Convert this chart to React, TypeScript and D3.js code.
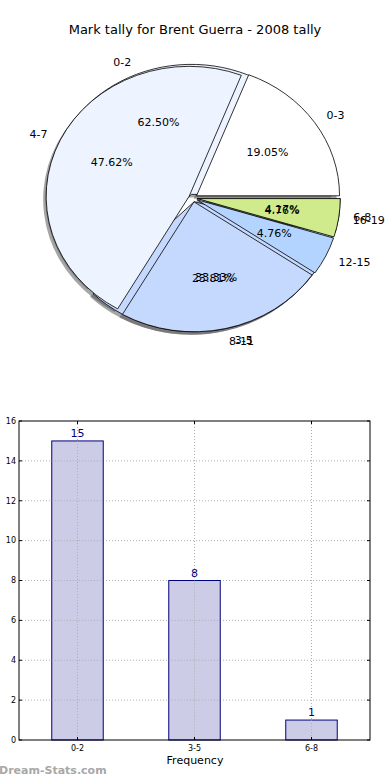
import * as d3 from "d3";

// first tally: 3 groups
const groupsA = ["0-2", "3-5", "6-8"];
const countsA = [15, 8, 1];
// second tally: 5 groups
const groupsB = ["0-3", "4-7", "8-11", "12-15", "16-19"];
const countsB = [4, 10, 5, 1, 1];
const explodeA = [0.03, 0.03, 0.03];
const explodeB = [0.03, 0.03, 0.03, 0.03, 0.03];

const colorsB = ["#ffffff", "#edf3ff", "#c5d8fe", "#b3d4fe", "#d0eb8b"];
const colorsA = ["#edf3ff", "#c5d8fe", "#d0eb8b"];

const barLabels = groupsA;
const barValues = countsA;
const yTicks = [0, 2, 4, 6, 8, 10, 12, 14, 16];

const W = 390;
const H = 780;
const font = "DejaVu Sans, sans-serif";

const cx = 193;
const cy = 198;
const rx = 143;
const ry = 130;

type Slice = { label: string; value: number; color: string; explode: number };

function PieLayer({ slices, part }: { slices: Slice[]; part: "shadow" | "wedge" | "text" }) {
  const total = d3.sum(slices, (d) => d.value);
  const pie = d3
    .pie<Slice>()
    .sort(null)
    .value((d) => d.value)
    .startAngle(Math.PI / 2)
    .endAngle(Math.PI / 2 - 2 * Math.PI);
  const arc = d3.arc<d3.PieArcDatum<Slice>>().innerRadius(0).outerRadius(1);
  const arcs = pie(slices);

  return (
    <g>
      {arcs.map((d, i) => {
        const mid = (d.startAngle + d.endAngle) / 2;
        const ex = Math.sin(mid) * d.data.explode * rx;
        const ey = -Math.cos(mid) * d.data.explode * ry;
        const ox = cx + ex;
        const oy = cy + ey;
        if (part === "shadow") {
          return (
            <path
              key={i}
              d={arc(d) || ""}
              transform={`translate(${ox - 3},${oy + 3}) scale(${rx},${ry})`}
              fill="#4d4d4d"
              opacity={0.5}
            />
          );
        }
        if (part === "wedge") {
          return (
            <path
              key={i}
              d={arc(d) || ""}
              transform={`translate(${ox},${oy}) scale(${rx},${ry})`}
              fill={d.data.color}
              stroke="#000"
              strokeWidth={0.8}
              vectorEffect="non-scaling-stroke"
              strokeLinejoin="round"
            />
          );
        }
        const lx = ox + Math.sin(mid) * 1.1 * rx;
        const ly = oy - Math.cos(mid) * 1.1 * ry;
        const px = ox + Math.sin(mid) * 0.6 * rx;
        const py = oy - Math.cos(mid) * 0.6 * ry;
        const pct = ((d.data.value / total) * 100).toFixed(2) + "%";
        return (
          <g key={i} fontFamily={font} fontSize={11} fill="#000">
            <text x={lx} y={ly} dy="0.35em" textAnchor={Math.sin(mid) > 0 ? "start" : "end"}>
              {d.data.label}
            </text>
            <text x={px} y={py} dy="0.35em" textAnchor="middle">
              {pct}
            </text>
          </g>
        );
      })}
    </g>
  );
}

export default function App() {
  const slicesA: Slice[] = groupsA.map((g, i) => ({
    label: g,
    value: countsA[i],
    color: colorsA[i],
    explode: explodeA[i],
  }));
  const slicesB: Slice[] = groupsB.map((g, i) => ({
    label: g,
    value: countsB[i],
    color: colorsB[i],
    explode: explodeB[i],
  }));

  // bar chart
  const left = 19;
  const right = 370;
  const top = 421;
  const bottom = 740;
  const x = d3.scaleLinear().domain([0, barLabels.length]).range([left, right]);
  const y = d3.scaleLinear().domain([0, 16]).range([bottom, top]);
  const barW = 0.44;

  return (
    <div style={{ position: "absolute", left: 0, top: 0 }}>
      <svg width={W} height={H} style={{ display: "block", background: "#fff" }}>
        <text x={195} y={34} textAnchor="middle" fontFamily={font} fontSize={13} fill="#000">
          Mark tally for Brent Guerra - 2008 tally
        </text>

        <PieLayer slices={slicesA} part="shadow" />
        <PieLayer slices={slicesB} part="shadow" />
        <PieLayer slices={slicesA} part="wedge" />
        <PieLayer slices={slicesB} part="wedge" />
        <PieLayer slices={slicesA} part="text" />
        <PieLayer slices={slicesB} part="text" />

        {/* grid */}
        <g stroke="#b0b0b0" strokeWidth={1} strokeDasharray="1,2">
          {yTicks.slice(1, -1).map((t) => (
            <line key={t} x1={left} x2={right} y1={y(t)} y2={y(t)} />
          ))}
          {barLabels.map((_, i) => (
            <line key={i} x1={x(i + 0.5)} x2={x(i + 0.5)} y1={top} y2={bottom} />
          ))}
        </g>

        {barValues.map((v, i) => (
          <g key={i}>
            <rect
              x={x(i + 0.5 - barW / 2)}
              y={y(v)}
              width={x(barW) - x(0)}
              height={y(0) - y(v)}
              fill="#ccccE6"
              stroke="#000080"
              strokeWidth={1}
            />
            <text
              x={x(i + 0.5)}
              y={y(v) - 4}
              textAnchor="middle"
              fontFamily={font}
              fontSize={11}
              fill="#000080"
            >
              {v}
            </text>
          </g>
        ))}

        {/* grid shows through the bars */}
        <g stroke="#a0a0a0" strokeWidth={1} strokeDasharray="1,2" opacity={0.7}>
          {barValues.map((v, i) =>
            yTicks
              .filter((t) => t > 0 && t < v)
              .map((t) => (
                <line
                  key={`${i}-${t}`}
                  x1={x(i + 0.5 - barW / 2)}
                  x2={x(i + 0.5 + barW / 2)}
                  y1={y(t)}
                  y2={y(t)}
                />
              ))
          )}
          {barValues.map((v, i) => (
            <line key={i} x1={x(i + 0.5)} x2={x(i + 0.5)} y1={y(v)} y2={bottom} />
          ))}
        </g>

        <rect
          x={left}
          y={top}
          width={right - left}
          height={bottom - top}
          fill="none"
          stroke="#000"
          strokeWidth={1}
        />

        {/* y ticks */}
        {yTicks.map((t) => (
          <g key={t}>
            <line x1={left} x2={left + 3} y1={y(t)} y2={y(t)} stroke="#000" />
            <line x1={right} x2={right - 3} y1={y(t)} y2={y(t)} stroke="#000" />
            <text
              x={left - 3}
              y={y(t)}
              dy="0.35em"
              textAnchor="end"
              fontFamily={font}
              fontSize={8}
              fill="#000"
            >
              {t}
            </text>
          </g>
        ))}

        {/* x ticks */}
        {barLabels.map((l, i) => (
          <g key={l}>
            <line x1={x(i + 0.5)} x2={x(i + 0.5)} y1={bottom} y2={bottom - 3} stroke="#000" />
            <line x1={x(i + 0.5)} x2={x(i + 0.5)} y1={top} y2={top + 3} stroke="#000" />
            <text
              x={x(i + 0.5)}
              y={bottom + 11}
              textAnchor="middle"
              fontFamily={font}
              fontSize={8}
              fill="#000"
            >
              {l}
            </text>
          </g>
        ))}

        <text x={195} y={764} textAnchor="middle" fontFamily={font} fontSize={11} fill="#000">
          Frequency
        </text>
        <text
          transform={`translate(-3,580) rotate(-90)`}
          textAnchor="middle"
          fontFamily={font}
          fontSize={11}
          fill="#000"
        >
          Students with Mark
        </text>

        <text x={-1} y={774} fontFamily={font} fontSize={11} fontWeight="bold" fill="#a8a8a8">
          Dream-Stats.com
        </text>
      </svg>
    </div>
  );
}
